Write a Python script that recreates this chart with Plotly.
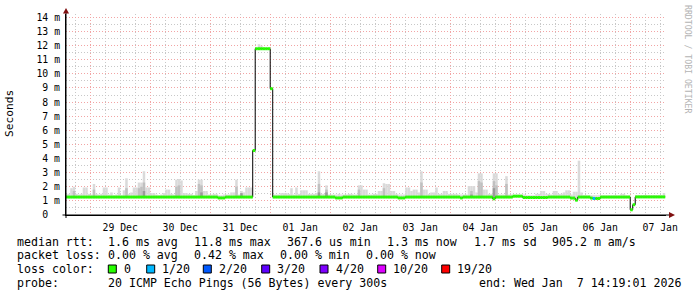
import plotly.graph_objects as go
import pandas as pd

# ---------------- data (ms), hourly bins starting 2025-12-28 14:00 ----------------
FIRST_BIN = "2025-12-28 14:00:00"
RANGE_START = "2025-12-28 14:19:01"
RANGE_END = "2026-01-07 14:19:01"

median_ms = [
    1.27, 1.27, 1.27, 1.27, 1.27, 1.27, 1.27, 1.27, 1.27, 1.27, 1.27, 1.27, 1.27, 1.27, 1.27, 1.27, 1.27, 1.27, 1.27, 1.27, 1.27, 1.27, 1.27, 1.27,
    1.27, 1.27, 1.27, 1.27, 1.27, 1.27, 1.27, 1.27, 1.27, 1.27, 1.27, 1.27, 1.27, 1.27, 1.27, 1.27, 1.27, 1.27, 1.27, 1.27, 1.27, 1.27, 1.27, 1.27,
    1.27, 1.27, 1.27, 1.27, 1.27, 1.27, 1.27, 1.27, 1.27, 1.27, 1.27, 1.27, 1.27, 1.21, 1.21, 1.21, 1.27, 1.27, 1.27, 1.27, 1.27, 1.27, 1.27, 1.27,
    1.27, 1.27, 1.27, 4.57, 11.78, 11.78, 11.78, 11.78, 11.78, 11.78, 8.95, 1.27, 1.27, 1.27, 1.27, 1.27, 1.27, 1.27, 1.27, 1.27, 1.27, 1.27, 1.27, 1.27,
    1.27, 1.27, 1.27, 1.27, 1.27, 1.27, 1.27, 1.27, 1.27, 1.27, 1.27, 1.27, 1.21, 1.21, 1.21, 1.27, 1.27, 1.27, 1.27, 1.27, 1.27, 1.27, 1.27, 1.27,
    1.27, 1.27, 1.27, 1.27, 1.27, 1.27, 1.27, 1.27, 1.27, 1.27, 1.27, 1.27, 1.27, 1.21, 1.21, 1.21, 1.27, 1.27, 1.27, 1.27, 1.27, 1.27, 1.27, 1.27,
    1.27, 1.27, 1.27, 1.27, 1.27, 1.27, 1.27, 1.27, 1.27, 1.27, 1.27, 1.27, 1.27, 1.27, 1.21, 1.27, 1.27, 1.27, 1.27, 1.27, 1.27, 1.27, 1.27, 1.27,
    1.27, 1.27, 1.27, 1.15, 1.27, 1.27, 1.27, 1.27, 1.27, 1.27, 1.27, 1.33, 1.33, 1.33, 1.33, 1.24, 1.24, 1.24, 1.24, 1.24, 1.24, 1.24, 1.24, 1.24,
    1.24, 1.27, 1.27, 1.27, 1.27, 1.27, 1.27, 1.27, 1.27, 1.27, 1.20, 1.20, 1.05, 1.27, 1.27, 1.27, 1.27, 1.27, 1.20, 1.17, 1.17, 1.17, 1.27, 1.27,
    1.27, 1.27, 1.27, 1.27, 1.27, 1.27, 1.27, 1.27, 1.27, 1.27, 0.37, 0.73, 1.28, 1.28, 1.28, 1.28, 1.28, 1.28, 1.28, 1.28, 1.28, 1.28, 1.28, 1.28,
]

smoke_hi_ms = [
    1.5, 1.5, 1.9, 2.0, 1.5, 1.45, 1.5, 1.95, 1.95, 1.5, 1.45, 2.2, 1.5, 1.45, 1.5, 1.95, 1.95, 1.45, 1.6, 1.4, 1.45, 1.95, 1.4, 1.75,
    2.6, 1.5, 1.6, 1.95, 1.95, 2.3, 2.3, 3.1, 1.95, 1.95, 1.55, 1.55, 1.45, 1.4, 1.45, 1.55, 1.8, 1.8, 1.5, 1.45, 2.5, 2.55, 2.45, 1.55,
    1.55, 1.5, 1.5, 1.4, 1.7, 2.5, 2.5, 1.7, 1.7, 1.45, 1.45, 1.5, 1.5, 1.4, 1.4, 1.45, 1.45, 1.45, 1.6, 1.6, 2.5, 1.45, 1.7, 1.6,
    1.95, 1.95, 1.95, 4.57, 11.8, 12.1, 12.0, 11.8, 11.8, 11.8, 8.95, 1.45, 1.45, 1.45, 1.55, 1.55, 1.55, 1.5, 1.9, 1.45, 1.95, 1.5, 1.75, 1.75,
    1.75, 1.5, 1.5, 1.5, 1.55, 3.1, 1.5, 1.5, 2.1, 1.45, 1.45, 1.45, 1.45, 1.5, 1.45, 1.45, 1.45, 1.5, 1.5, 1.45, 1.45, 2.1, 2.1, 1.8,
    1.8, 1.45, 1.45, 1.5, 1.5, 1.7, 1.7, 2.25, 2.2, 2.2, 1.7, 1.7, 1.5, 1.45, 1.45, 1.45, 1.95, 1.95, 1.7, 1.8, 1.8, 1.6, 3.1, 1.8,
    1.8, 1.5, 1.6, 1.6, 1.95, 1.5, 1.5, 1.7, 1.7, 1.5, 1.5, 1.5, 1.5, 1.45, 1.45, 1.45, 1.45, 2.05, 2.05, 2.05, 1.6, 2.95, 2.95, 1.8,
    1.8, 1.5, 1.5, 2.95, 2.95, 1.45, 1.45, 1.45, 2.75, 1.45, 1.45, 1.45, 1.45, 1.45, 1.45, 1.45, 1.4, 1.4, 1.4, 1.4, 1.5, 1.5, 1.7, 1.7,
    1.5, 1.5, 1.45, 1.7, 1.7, 1.5, 1.5, 1.6, 1.75, 1.75, 1.45, 1.65, 1.65, 3.85, 1.6, 1.4, 1.4, 1.4, 1.4, 1.4, 1.4, 1.4, 1.4, 1.4,
    1.4, 1.4, 1.4, 1.4, 1.4, 1.4, 1.5, 1.5, 1.4, 1.4, 0.37, 0.73, 1.4, 1.4, 1.4, 1.4, 1.4, 1.4, 1.4, 1.4, 1.4, 1.4, 1.4, 1.55,
]

loss_of_20 = [
    0, 0, 0, 0, 0, 0, 0, 0, 0, 0, 0, 0, 0, 0, 0, 0, 0, 0, 0, 0, 0, 0, 0, 0,
    0, 0, 0, 0, 0, 0, 0, 0, 0, 0, 0, 0, 0, 0, 0, 0, 0, 0, 0, 0, 0, 0, 0, 0,
    0, 0, 0, 0, 0, 0, 0, 0, 0, 0, 0, 0, 0, 0, 0, 0, 0, 0, 0, 0, 0, 0, 0, 0,
    0, 0, 0, 0, 0, 0, 0, 0, 0, 0, 0, 0, 0, 0, 0, 0, 0, 0, 0, 0, 0, 0, 0, 0,
    0, 0, 0, 0, 0, 0, 0, 0, 0, 0, 0, 0, 0, 0, 0, 0, 0, 0, 0, 0, 0, 0, 0, 0,
    0, 0, 0, 0, 0, 0, 0, 0, 0, 0, 0, 0, 0, 0, 0, 0, 0, 0, 0, 0, 0, 0, 0, 0,
    0, 0, 0, 0, 0, 0, 0, 0, 0, 0, 0, 0, 0, 0, 0, 0, 0, 0, 0, 0, 0, 0, 0, 0,
    0, 0, 0, 0, 0, 0, 0, 0, 0, 0, 0, 0, 0, 0, 0, 0, 0, 0, 0, 0, 0, 0, 0, 0,
    0, 0, 0, 0, 0, 0, 0, 0, 0, 0, 0, 0, 0, 0, 0, 0, 0, 0, 0, 1, 0, 0, 0, 0,
    0, 0, 0, 0, 0, 0, 0, 0, 0, 0, 0, 0, 0, 0, 0, 0, 0, 0, 0, 0, 0, 0, 0, 0,
]

# darker inner smoke (bin index -> top value, ms)
mid_bins = [3, 11, 24, 29, 30, 31, 44, 45, 53, 54, 68, 101, 104, 117, 127, 142, 162, 165, 166, 171, 172, 176]
mid_top_ms = [1.7, 1.8, 1.9, 1.9, 2.0, 2.3, 2.0, 2.1, 2.2, 2.1, 2.0, 2.2, 1.8, 1.8, 1.9, 2.3, 1.7, 2.4, 2.3, 2.4, 2.1, 2.2]
dark_bins = [31, 54, 70, 101, 104, 162, 171]
dark_top_ms = [1.7, 1.6, 1.55, 1.6, 1.6, 1.45, 1.9]

y_tick_vals = [0, 1, 2, 3, 4, 5, 6, 7, 8, 9, 10, 11, 12, 13, 14]
y_tick_text = ["0\u00a0\u00a0", "1 m", "2 m", "3 m", "4 m", "5 m", "6 m", "7 m", "8 m", "9 m",
               "10 m", "11 m", "12 m", "13 m", "14 m"]
y_minor_vals = [0.5, 1.5, 2.5, 3.5, 4.5, 5.5, 6.5, 7.5, 8.5, 9.5, 10.5, 11.5, 12.5, 13.5]
grid_days = ["2025-12-28", "2025-12-29", "2025-12-30", "2025-12-31", "2026-01-01", "2026-01-02",
             "2026-01-03", "2026-01-04", "2026-01-05", "2026-01-06", "2026-01-07"]
day_labels = ["29 Dec", "30 Dec", "31 Dec", "01 Jan", "02 Jan",
              "03 Jan", "04 Jan", "05 Jan", "06 Jan", "07 Jan"]

loss_levels = [0, 1, 2, 3, 4, 10, 19]
loss_names = ["0", "1/20", "2/20", "3/20", "4/20", "10/20", "19/20"]
loss_colors = ["#26ff00", "#00b8ff", "#0059ff", "#5e00ff", "#7e00ff", "#dd00ff", "#ff0000"]

legend_rows = [
    [("median rtt:", 16), ("1.6 ms avg", 107), ("11.8 ms max", 193), ("367.6 us min", 286),
     ("1.3 ms now", 386), ("1.7 ms sd", 472.5), ("905.2 m am/s", 551)],
    [("packet loss:", 16), ("0.00 % avg", 107), ("0.42 % max", 193), ("0.00 % min", 279),
     ("0.00 % now", 365)],
    [("loss color:", 16)],
    [("probe:", 16), ("20 ICMP Echo Pings (56 Bytes) every 300s", 107),
     ("end: Wed Jan\u00a0 7 14:19:01 2026", 478)],
]

# ---------------- geometry ----------------
W, H = 697, 297
L, R, T, B = 66, 31, 14, 82
PW, PH = W - L - R, H - T - B
Y_MAX = 14.24
MONO = "DejaVu Sans Mono"


def px(x):
    return (x - L) / PW


def py(y):
    return (H - B - y) / PH


bins = pd.date_range(FIRST_BIN, periods=len(median_ms), freq="h")
HOUR = pd.Timedelta(hours=1)
HOUR_MS = 3600000

midnights = [pd.Timestamp(d) for d in grid_days[1:]]
noon = [pd.Timestamp(d) + pd.Timedelta(hours=12) for d in grid_days[1:]]
six_hourly = []
for d in grid_days:
    for hh in (6, 12, 18):
        t = pd.Timestamp(d) + pd.Timedelta(hours=hh)
        if pd.Timestamp(RANGE_START) <= t <= pd.Timestamp(RANGE_END):
            six_hourly.append(t)

fig = go.Figure()

# smoke
fig.add_trace(go.Bar(
    x=bins, y=[max(h - m, 0) for h, m in zip(smoke_hi_ms, median_ms)], base=median_ms,
    width=HOUR_MS, offset=0, marker=dict(color="#dadada", line=dict(width=0)), hoverinfo="skip"))
fig.add_trace(go.Bar(
    x=[bins[k] for k in mid_bins], y=[t - median_ms[k] for k, t in zip(mid_bins, mid_top_ms)],
    base=[median_ms[k] for k in mid_bins],
    width=HOUR_MS, offset=0, marker=dict(color="#c0c0c0", line=dict(width=0)), hoverinfo="skip"))
fig.add_trace(go.Bar(
    x=[bins[k] for k in dark_bins], y=[t - median_ms[k] for k, t in zip(dark_bins, dark_top_ms)],
    base=[median_ms[k] for k in dark_bins],
    width=HOUR_MS, offset=0, marker=dict(color="#9a9a9a", line=dict(width=0)), hoverinfo="skip"))

# black median step line
fig.add_trace(go.Scatter(
    x=list(bins) + [bins[-1] + HOUR], y=median_ms + [median_ms[-1]],
    mode="lines", line=dict(color="#000000", width=1, shape="hv"), hoverinfo="skip"))

# loss-coloured median segments
for lvl, col in zip(loss_levels, loss_colors):
    xs, ys = [], []
    for t, m, l in zip(bins, median_ms, loss_of_20):
        if l == lvl:
            xs += [t, t + HOUR, None]
            ys += [m, m, None]
    if xs:
        fig.add_trace(go.Scatter(x=xs, y=ys, mode="lines",
                                 line=dict(color=col, width=3), hoverinfo="skip"))

# carriers for overlay axes (labels / extra grids)
fig.add_trace(go.Scatter(x=noon, y=[None] * len(noon), xaxis="x2", mode="markers", hoverinfo="skip"))
fig.add_trace(go.Scatter(x=midnights, y=[None] * len(midnights), xaxis="x3", mode="markers", hoverinfo="skip"))
fig.add_trace(go.Scatter(x=noon, y=[None] * len(noon), yaxis="y2", mode="markers", hoverinfo="skip"))

GRID_MAJ = "#f2a4a4"
GRID_MIN = "#c8c8c8"
DASH = "1px,2px"

fig.update_layout(
    width=W, height=H, margin=dict(l=L, r=R, t=T, b=B),
    paper_bgcolor="white", plot_bgcolor="white", showlegend=False,
    barmode="overlay",
    font=dict(family=MONO, color="#000000"),
    xaxis=dict(
        type="date", range=[RANGE_START, RANGE_END],
        tickmode="array", tickvals=six_hourly, showticklabels=False, ticks="",
        showgrid=True, gridcolor=GRID_MIN, griddash=DASH, gridwidth=1,
        showline=True, linecolor="#000000", linewidth=1, zeroline=False,
    ),
    xaxis3=dict(
        type="date", range=[RANGE_START, RANGE_END], overlaying="x", side="bottom", anchor="y",
        tickmode="array", tickvals=midnights, showticklabels=False, ticks="",
        showgrid=True, gridcolor=GRID_MAJ, griddash=DASH, gridwidth=1,
        showline=False, zeroline=False,
    ),
    xaxis2=dict(
        type="date", range=[RANGE_START, RANGE_END], overlaying="x", side="bottom", anchor="y",
        tickmode="array", tickvals=noon, ticktext=day_labels,
        ticks="outside", ticklen=3, tickcolor="rgba(0,0,0,0)",
        showgrid=False, showline=False, zeroline=False,
        tickfont=dict(family=MONO, size=9.8, color="#000000"),
    ),
    yaxis=dict(
        range=[0, Y_MAX], tickmode="array", tickvals=y_tick_vals, ticktext=y_tick_text,
        showgrid=True, gridcolor=GRID_MAJ, griddash=DASH, gridwidth=1,
        ticks="outside", ticklen=3, tickcolor="rgba(0,0,0,0)",
        showline=True, linecolor="#000000", linewidth=1, zeroline=False,
        tickfont=dict(family=MONO, size=9.8, color="#000000"),
    ),
    yaxis2=dict(
        range=[0, Y_MAX], overlaying="y", side="left", anchor="x",
        tickmode="array", tickvals=y_minor_vals, showticklabels=False, ticks="",
        showgrid=True, gridcolor=GRID_MIN, griddash=DASH, gridwidth=1,
        showline=False, zeroline=False,
    ),
)

shapes = []
ARROW = "#7f1010"
# axis extensions
shapes.append(dict(type="line", xref="paper", yref="paper", x0=px(62.5), x1=px(670), y0=py(215), y1=py(215),
                   line=dict(color="#000000", width=1)))
shapes.append(dict(type="line", xref="paper", yref="paper", x0=px(66), x1=px(66), y0=py(218), y1=py(12),
                   line=dict(color="#000000", width=1)))
# arrows
shapes.append(dict(type="path", xref="paper", yref="paper",
                   path=f"M {px(669)} {py(212)} L {px(675)} {py(215)} L {px(669)} {py(218)} Z",
                   fillcolor=ARROW, line=dict(color=ARROW, width=0)))
shapes.append(dict(type="path", xref="paper", yref="paper",
                   path=f"M {px(63)} {py(13.5)} L {px(66)} {py(8)} L {px(69)} {py(13.5)} Z",
                   fillcolor=ARROW, line=dict(color=ARROW, width=0)))

annotations = []
row_y = [241.5, 255.3, 269.2, 283]
for row, yy in zip(legend_rows, row_y):
    for text, xx in row:
        annotations.append(dict(text=text, x=px(xx), y=py(yy), xref="paper", yref="paper",
                                xanchor="left", yanchor="middle", showarrow=False, borderpad=0,
                                font=dict(family=MONO, size=11.6, color="#000000")))

swatch_x = [108.3, 146.7, 203.3, 261.7, 320, 377.7, 441.7]
for sx, name, col in zip(swatch_x, loss_names, loss_colors):
    shapes.append(dict(type="rect", xref="paper", yref="paper",
                       x0=px(sx), x1=px(sx + 8), y0=py(265), y1=py(273),
                       fillcolor=col, line=dict(color="#000000", width=1)))
    annotations.append(dict(text=name, x=px(sx + 14.5), y=py(row_y[2]), xref="paper", yref="paper",
                            xanchor="left", yanchor="middle", showarrow=False, borderpad=0,
                            font=dict(family=MONO, size=11.6, color="#000000")))

annotations.append(dict(text="Seconds", x=px(10), y=py(114), xref="paper", yref="paper",
                        xanchor="center", yanchor="middle", textangle=-90, showarrow=False,
                        font=dict(family=MONO, size=11.2, color="#000000")))
annotations.append(dict(text="RRDTOOL / TOBI OETIKER", x=px(688), y=py(59), xref="paper", yref="paper",
                        xanchor="center", yanchor="middle", textangle=90, showarrow=False,
                        font=dict(family=MONO, size=8.2, color="#b4b4b4")))

fig.update_layout(shapes=shapes, annotations=annotations)
fig.write_html("out.html")
